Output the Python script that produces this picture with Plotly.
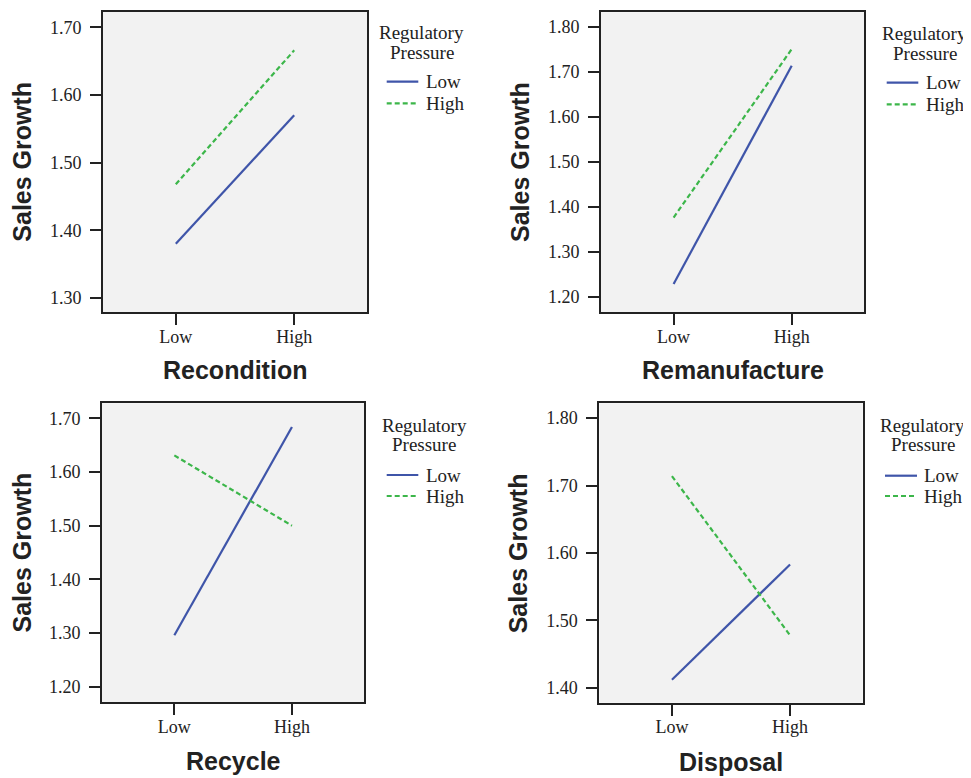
import plotly.graph_objects as go

x_levels = ["Low", "High"]
x_pos = [0, 1]
panels = ["Recondition", "Remanufacture", "Recycle", "Disposal"]
low_rp = {
    "Recondition": [1.380, 1.570],
    "Remanufacture": [1.228, 1.714],
    "Recycle": [1.296, 1.684],
    "Disposal": [1.412, 1.583],
}
high_rp = {
    "Recondition": [1.468, 1.666],
    "Remanufacture": [1.376, 1.751],
    "Recycle": [1.631, 1.500],
    "Disposal": [1.714, 1.478],
}
y_ticks = {
    "Recondition": [1.30, 1.40, 1.50, 1.60, 1.70],
    "Remanufacture": [1.20, 1.30, 1.40, 1.50, 1.60, 1.70, 1.80],
    "Recycle": [1.20, 1.30, 1.40, 1.50, 1.60, 1.70],
    "Disposal": [1.40, 1.50, 1.60, 1.70, 1.80],
}
y_ranges = {
    "Recondition": [1.279, 1.7227],
    "Remanufacture": [1.165, 1.833],
    "Recycle": [1.171, 1.728],
    "Disposal": [1.378, 1.822],
}
series_names = ["Low", "High"]
legend_title = ["Regulatory", "Pressure"]

WIN_W, WIN_H = 971, 778
OFF = 8  # default body margin of the page
W, H = WIN_W - OFF, WIN_H - OFF


def px(x):
    return (x - OFF) / W


def py(y):
    return 1 - (y - OFF) / H


# pixel frames in window coords: (left, right, top, bottom)
frames = [
    (103, 367, 12, 312),
    (601, 864.3, 12.3, 312.3),
    (102, 364.3, 403.3, 702.3),
    (599.3, 862.7, 403.3, 702.7),
]
# legend layout: title centre x, title line ys, sample x0, x1, text x, item ys
legends = [
    (421.7, (33, 52), 386.7, 418.3, 424, (81.7, 103.3)),
    (924.7, (33.3, 53.3), 886.7, 918.3, 924, (82.7, 104.3)),
    (424.0, (425, 444), 386.7, 418.3, 424, (475, 496)),
    (922.5, (425, 444), 885.0, 917.0, 922.3, (475.7, 496)),
]
ytitle_x = [21.7, 520.7, 21.7, 518.3]
xtitle_y = [370.5, 370.5, 760.5, 761.5]

BLUE = "#3f55a9"
GREEN = "#3cb64a"
SERIF = "Liberation Serif"
SANS = "Liberation Sans"
FRAME = "#222222"
TXT = "#222222"
colors = [BLUE, GREEN]
dashes = ["solid", "5px,3px"]

fig = go.Figure()
annotations = []
for i, name in enumerate(panels):
    k = "" if i == 0 else str(i + 1)
    for s, vals in enumerate([low_rp[name], high_rp[name]]):
        fig.add_trace(go.Scatter(x=x_pos, y=vals, mode="lines", name=series_names[s],
                                 line=dict(color=colors[s], width=2.2, dash=dashes[s]),
                                 xaxis="x" + k, yaxis="y" + k, showlegend=False))
    l, r, t, b = frames[i]
    axcommon = dict(showline=True, mirror=True, linecolor=FRAME, linewidth=2,
                    ticks="outside", ticklen=11, tickwidth=2, tickcolor=FRAME,
                    showgrid=False, zeroline=False,
                    tickfont=dict(family=SERIF, size=18, color=TXT))
    fig.layout["xaxis" + k] = dict(domain=[px(l), px(r)], anchor="y" + k,
                                   range=[-0.615, 1.615], tickvals=x_pos, ticktext=x_levels,
                                   ticklabelstandoff=-4, **axcommon)
    fig.layout["yaxis" + k] = dict(domain=[py(b), py(t)], anchor="x" + k,
                                   range=y_ranges[name], tickvals=y_ticks[name],
                                   ticktext=[f"{v:.2f}" for v in y_ticks[name]],
                                   ticklabelstandoff=5, **axcommon)
    fig.add_shape(type="rect", xref="paper", yref="paper", x0=px(l), x1=px(r),
                  y0=py(b), y1=py(t), fillcolor="#f2f2f2", line=dict(width=0),
                  layer="below")
    annotations.append(dict(text="<b>Sales Growth</b>", xref="paper", yref="paper",
                            x=px(ytitle_x[i]), y=py((t + b) / 2), textangle=-90,
                            showarrow=False, xanchor="center", yanchor="middle",
                            font=dict(family=SANS, size=25, color=TXT)))
    annotations.append(dict(text=f"<b>{name}</b>", xref="paper", yref="paper",
                            x=px((l + r) / 2), y=py(xtitle_y[i]),
                            showarrow=False, xanchor="center", yanchor="middle",
                            font=dict(family=SANS, size=25, color=TXT)))
    # legend
    tcx, tys, sx0, sx1, tx, iys = legends[i]
    for line_txt, ty in zip(legend_title, tys):
        annotations.append(dict(text=line_txt, xref="paper", yref="paper",
                                x=px(tcx), y=py(ty), showarrow=False,
                                xanchor="center", yanchor="middle",
                                font=dict(family=SERIF, size=19, color=TXT)))
    for s, iy in enumerate(iys):
        fig.add_shape(type="line", xref="paper", yref="paper", x0=px(sx0), x1=px(sx1),
                      y0=py(iy), y1=py(iy),
                      line=dict(color=colors[s], width=2.2, dash=dashes[s]))
        annotations.append(dict(text=series_names[s], xref="paper", yref="paper",
                                x=px(tx), y=py(iy), showarrow=False,
                                xanchor="left", yanchor="middle",
                                font=dict(family=SERIF, size=19, color=TXT)))

fig.update_layout(width=W, height=H, margin=dict(l=0, r=0, t=0, b=0),
                  paper_bgcolor="white", plot_bgcolor="rgba(0,0,0,0)",
                  annotations=annotations, showlegend=False)
fig.write_html("out.html")
